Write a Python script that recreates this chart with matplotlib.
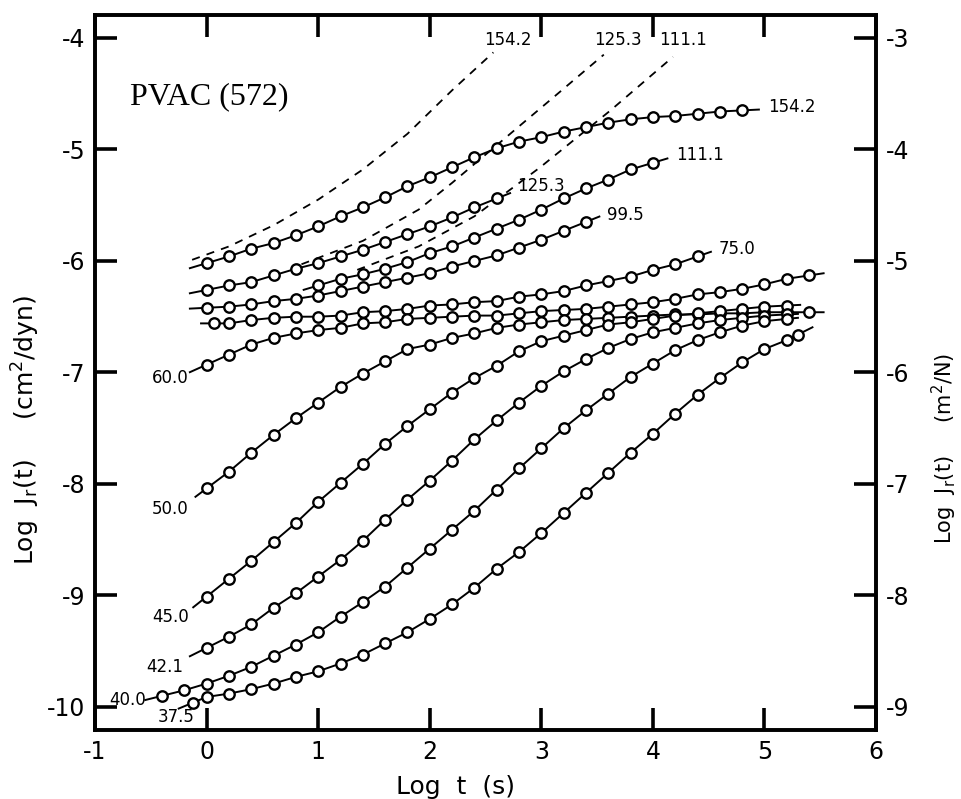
import matplotlib
matplotlib.use("Agg")
import matplotlib.pyplot as plt

plt.rcParams['font.family'] = 'DejaVu Sans'
plt.rcParams['axes.unicode_minus'] = False

# log t grid used by the measurements (step 0.2)
logt = [0.0, 0.2, 0.4, 0.6, 0.8, 1.0, 1.2, 1.4, 1.6, 1.8, 2.0, 2.2, 2.4, 2.6,
        2.8, 3.0, 3.2, 3.4, 3.6, 3.8, 4.0, 4.2, 4.4, 4.6, 4.8, 5.0, 5.2, 5.4]

# measured curves: label -> (x values, log J values)
x_154 = logt[:25]
y_154 = [-6.02, -5.96, -5.89, -5.84, -5.77, -5.69, -5.60, -5.52, -5.43, -5.33,
         -5.25, -5.16, -5.07, -4.99, -4.93, -4.89, -4.84, -4.80, -4.76, -4.73,
         -4.71, -4.70, -4.68, -4.66, -4.65]

x_125 = logt[:14]
y_125 = [-6.26, -6.22, -6.19, -6.13, -6.07, -6.02, -5.96, -5.90, -5.83, -5.76,
         -5.69, -5.61, -5.52, -5.44]

x_111 = logt[5:21]
y_111 = [-6.22, -6.16, -6.12, -6.07, -6.01, -5.93, -5.87, -5.79, -5.71, -5.63,
         -5.54, -5.44, -5.35, -5.27, -5.18, -5.12]

x_995 = logt[:18]
y_995 = [-6.42, -6.41, -6.39, -6.36, -6.34, -6.31, -6.27, -6.23, -6.19, -6.15,
         -6.11, -6.05, -6.00, -5.95, -5.88, -5.81, -5.73, -5.65]

x_75 = [0.07] + logt[1:23]
y_75 = [-6.56, -6.56, -6.53, -6.51, -6.50, -6.50, -6.49, -6.46, -6.45, -6.43,
        -6.40, -6.39, -6.37, -6.36, -6.32, -6.30, -6.27, -6.22, -6.18, -6.14,
        -6.08, -6.03, -5.96]

x_60 = logt[:28]
y_60 = [-6.93, -6.84, -6.75, -6.69, -6.65, -6.62, -6.60, -6.56, -6.55, -6.52,
        -6.51, -6.50, -6.49, -6.49, -6.47, -6.45, -6.44, -6.43, -6.41, -6.39,
        -6.37, -6.34, -6.30, -6.28, -6.25, -6.21, -6.16, -6.13]

x_50 = logt[:28]
y_50 = [-8.04, -7.89, -7.72, -7.56, -7.41, -7.27, -7.13, -7.01, -6.90, -6.79,
        -6.75, -6.69, -6.65, -6.60, -6.57, -6.55, -6.53, -6.52, -6.51, -6.50,
        -6.49, -6.48, -6.48, -6.47, -6.47, -6.46, -6.46, -6.46]

x_45 = logt[:27]
y_45 = [-9.01, -8.85, -8.69, -8.52, -8.35, -8.16, -7.99, -7.82, -7.64, -7.48,
        -7.33, -7.18, -7.05, -6.94, -6.81, -6.72, -6.67, -6.62, -6.57, -6.55,
        -6.52, -6.49, -6.47, -6.45, -6.43, -6.41, -6.40]

x_421 = logt[:27]
y_421 = [-9.47, -9.37, -9.26, -9.11, -8.98, -8.83, -8.68, -8.51, -8.32, -8.14,
         -7.97, -7.79, -7.60, -7.43, -7.27, -7.12, -6.99, -6.88, -6.78, -6.70,
         -6.64, -6.60, -6.56, -6.53, -6.51, -6.49, -6.48]

x_40 = [-0.4, -0.2] + logt[:27]
y_40 = [-9.90, -9.85, -9.79, -9.72, -9.64, -9.54, -9.44, -9.33, -9.19, -9.06,
        -8.92, -8.75, -8.58, -8.41, -8.24, -8.05, -7.86, -7.68, -7.50, -7.34,
        -7.19, -7.04, -6.92, -6.80, -6.71, -6.64, -6.58, -6.54, -6.52]

x_375 = [-0.12] + logt[:27] + [5.3]
y_375 = [-9.96, -9.91, -9.88, -9.84, -9.79, -9.73, -9.68, -9.61, -9.53, -9.43,
         -9.33, -9.21, -9.08, -8.93, -8.76, -8.61, -8.44, -8.26, -8.08, -7.90,
         -7.72, -7.55, -7.37, -7.20, -7.05, -6.91, -6.79, -6.71, -6.66]

# where each drawn line starts and ends (log t)
curves = [
    ("154.2", x_154, y_154, -0.15, 4.95),
    ("125.3", x_125, y_125, -0.15, 2.72),
    ("111.1", x_111, y_111, 0.87, 4.13),
    ("99.5", x_995, y_995, -0.15, 3.52),
    ("75.0", x_75, y_75, -0.05, 4.52),
    ("60.0", x_60, y_60, -0.15, 5.53),
    ("50.0", x_50, y_50, -0.10, 5.53),
    ("45.0", x_45, y_45, -0.12, 5.32),
    ("42.1", x_421, y_421, -0.15, 5.30),
    ("40.0", x_40, y_40, -0.55, 5.30),
    ("37.5", x_375, y_375, -0.25, 5.43),
]

# dashed curves
dash_154_x = [-0.13, 0.2, 0.6, 1.0, 1.4, 1.8, 2.2, 2.57]
dash_154_y = [-5.99, -5.87, -5.68, -5.45, -5.18, -4.86, -4.47, -4.13]
dash_125_x = [0.85, 1.4, 1.9, 2.2, 2.65, 3.1, 3.56]
dash_125_y = [-6.03, -5.82, -5.54, -5.30, -4.92, -4.54, -4.15]
dash_111_x = [1.35, 1.9, 2.4, 2.99, 3.62, 4.18]
dash_111_y = [-6.08, -5.87, -5.60, -5.16, -4.65, -4.17]

# curve labels: text, x, y, alignment
end_labels = [
    ("154.2", 5.03, -4.62, "left"),
    ("111.1", 4.21, -5.05, "left"),
    ("125.3", 2.78, -5.33, "left"),
    ("99.5", 3.59, -5.59, "left"),
    ("75.0", 4.59, -5.89, "left"),
    ("60.0", -0.16, -7.05, "right"),
    ("50.0", -0.16, -8.22, "right"),
    ("45.0", -0.16, -9.19, "right"),
    ("42.1", -0.21, -9.64, "right"),
    ("40.0", -0.54, -9.94, "right"),
    ("37.5", -0.11, -10.09, "right"),
]
dash_labels = [("154.2", 2.70, -4.02), ("125.3", 3.69, -4.02), ("111.1", 4.27, -4.02)]

fig = plt.figure(figsize=(9.61, 7.99), dpi=100)
ax = fig.add_axes([0.0989, 0.0864, 0.8127, 0.8949])

for name, xs, ys, x_start, x_end in curves:
    y_start = ys[0] + (x_start - xs[0]) * (ys[1] - ys[0]) / (xs[1] - xs[0])
    y_end = ys[-1] + (x_end - xs[-1]) * (ys[-1] - ys[-2]) / (xs[-1] - xs[-2])
    ax.plot([x_start] + list(xs) + [x_end], [y_start] + list(ys) + [y_end],
            color='black', lw=1.4, zorder=2)
    ax.plot(xs, ys, linestyle='none', marker='o', ms=7.5, mfc='white',
            mec='black', mew=1.7, zorder=3)

for dx, dy in [(dash_154_x, dash_154_y), (dash_125_x, dash_125_y),
               (dash_111_x, dash_111_y)]:
    ax.plot(dx, dy, color='black', lw=1.3, dashes=(4.5, 4), zorder=1)

for text, tx, ty, ha in end_labels:
    ax.text(tx, ty, text, ha=ha, va='center', fontsize=12)
for text, tx, ty in dash_labels:
    ax.text(tx, ty, text, ha='center', va='center', fontsize=12)

ax.text(-0.69, -4.53, "PVAC (572)", fontsize=23, family='Liberation Serif',
        ha='left', va='center')

ax.set_xlim(-1, 6)
ax.set_ylim(-10.206, -3.794)
ax.set_xticks([-1, 0, 1, 2, 3, 4, 5, 6])
ax.set_yticks([-4, -5, -6, -7, -8, -9, -10])
ax.tick_params(axis='both', direction='in', length=16, width=2.6,
               labelsize=17, pad=7, top=True, right=False)

ax2 = ax.twinx()
ax2.set_ylim(-9.206, -2.794)
ax2.set_yticks([-3, -4, -5, -6, -7, -8, -9])
ax2.tick_params(axis='y', direction='in', length=16, width=2.6,
                labelsize=17, pad=7)

for a in (ax, ax2):
    for sp in a.spines.values():
        sp.set_linewidth(2.6)

ax.set_xlabel("Log  t  (s)", fontsize=18)
ax.xaxis.set_label_coords(0.462, -0.063)
ax.set_ylabel("Log  J$_\\mathregular{r}$(t)     (cm$^\\mathregular{2}$/dyn)",
              fontsize=18)
ax.yaxis.set_label_coords(-0.068, 0.42)
ax2.set_ylabel("Log  J$_\\mathregular{r}$(t)     (m$^\\mathregular{2}$/N)",
               fontsize=15)
ax2.yaxis.set_label_coords(1.069, 0.394)

fig.savefig("out.png", dpi=100)
